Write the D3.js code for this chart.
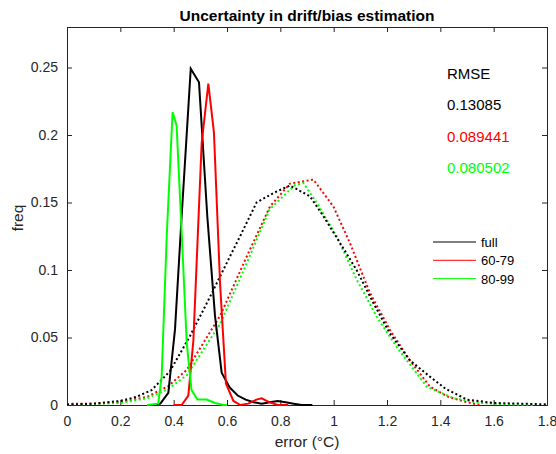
<!DOCTYPE html>
<html>
<head>
<meta charset="utf-8">
<script src="https://cdn.jsdelivr.net/npm/d3@7"></script>
<style>
  body { margin: 0; background: #fff; }
  svg text { font-family: "Liberation Sans", Arial, sans-serif; }
</style>
</head>
<body>
<svg id="chart" width="556" height="454"></svg>
<script>
// solid curves: [error, freq]
var fullSolid = [[0.30,0],[0.33,0],[0.35,0.001],[0.38,0.009],[0.405,0.056],[0.43,0.14],[0.464,0.249],
    [0.495,0.239],[0.526,0.14],[0.555,0.066],[0.58,0.024],[0.61,0.013],[0.64,0.007],[0.67,0.004],
    [0.70,0.002],[0.73,0.001],[0.76,0.002],[0.79,0.003],[0.82,0.002],[0.85,0.001],[0.88,0],[0.92,0]];
var s6079Solid = [[0.40,0],[0.43,0],[0.455,0.007],[0.474,0.048],[0.505,0.194],[0.53,0.238],[0.551,0.202],
    [0.574,0.09],[0.596,0.016],[0.624,0.003],[0.65,0],[0.68,0.001],[0.71,0.004],[0.73,0.005],
    [0.76,0.002],[0.79,0],[0.83,0]];
var s8099Solid = [[0.30,0],[0.342,0.001],[0.355,0.021],[0.374,0.125],[0.396,0.217],[0.411,0.207],
    [0.43,0.128],[0.449,0.046],[0.467,0.011],[0.489,0.004],[0.524,0.004],[0.555,0.0015],[0.586,0],[0.60,0]];

// dotted curves
var fullDot = [[0,0.0003],[0.1,0.001],[0.2,0.003],[0.26,0.006],[0.317,0.011],[0.386,0.025],[0.461,0.051],
    [0.536,0.08],[0.611,0.11],[0.649,0.125],[0.711,0.15],[0.774,0.157],[0.836,0.1626],[0.911,0.1546],
    [0.961,0.14],[1.024,0.12],[1.086,0.1],[1.149,0.0755],[1.211,0.053],[1.286,0.033],[1.361,0.021],
    [1.42,0.012],[1.5,0.004],[1.6,0.0015],[1.7,0.001],[1.8,0.0005]];
var s6079Dot = [[0,0.0008],[0.1,0.001],[0.2,0.002],[0.3,0.006],[0.38,0.014],[0.449,0.026],[0.574,0.066],
    [0.674,0.11],[0.761,0.147],[0.836,0.164],[0.924,0.167],[0.999,0.147],[1.061,0.12],[1.136,0.083],
    [1.211,0.0557],[1.286,0.033],[1.361,0.0136],[1.43,0.006],[1.5,0.002],[1.55,0]];
var s8099Dot = [[0,0.0003],[0.1,0.0008],[0.2,0.0015],[0.3,0.005],[0.38,0.012],[0.449,0.022],[0.574,0.06],
    [0.674,0.105],[0.76,0.145],[0.855,0.163],[0.886,0.1645],[0.936,0.15],[1.011,0.125],[1.086,0.093],
    [1.161,0.0655],[1.236,0.043],[1.349,0.0136],[1.45,0.005],[1.55,0.0015],[1.65,0.0005],[1.75,0]];

var seriesNames = ["full", "60-79", "80-99"];
var seriesColors = ["#000000", "#ff0000", "#00ff00"];
var rmseValues = ["0.13085", "0.089441", "0.080502"];
var xTicks = [0, 0.2, 0.4, 0.6, 0.8, 1, 1.2, 1.4, 1.6, 1.8];
var yTicks = [0, 0.05, 0.1, 0.15, 0.2, 0.25];

(function() {
    var svg = d3.select("#chart");
    var mLeft = 67, mRight = 547, mTop = 27, mBottom = 405;
    var axisColor = "#262626";

    var x = d3.scaleLinear().domain([0, 1.8]).range([mLeft, mRight]);
    var y = d3.scaleLinear().domain([0, 0.28]).range([mBottom, mTop]);

    // axes with inward ticks on all sides
    function axisStyle(g) {
        g.select(".domain").remove();
        g.selectAll(".tick line").attr("stroke", axisColor);
        g.selectAll(".tick text").attr("fill", axisColor).attr("font-size", 14);
    }
    svg.append("g").attr("transform", "translate(0," + mBottom + ")")
        .call(d3.axisBottom(x).tickValues(xTicks).tickSize(-5).tickPadding(11).tickFormat(d3.format("~g")))
        .call(axisStyle);
    svg.append("g").attr("transform", "translate(0," + mTop + ")")
        .call(d3.axisTop(x).tickValues(xTicks).tickSize(-5).tickFormat(""))
        .call(axisStyle);
    svg.append("g").attr("transform", "translate(" + mLeft + ",0)")
        .call(d3.axisLeft(y).tickValues(yTicks).tickSize(-5).tickPadding(9).tickFormat(d3.format("~g")))
        .call(axisStyle);
    svg.append("g").attr("transform", "translate(" + mRight + ",0)")
        .call(d3.axisRight(y).tickValues(yTicks).tickSize(-5).tickFormat(""))
        .call(axisStyle);

    svg.append("rect")
        .attr("x", mLeft + 0.5).attr("y", mTop + 0.5)
        .attr("width", mRight - mLeft).attr("height", mBottom - mTop)
        .attr("fill", "none").attr("stroke", axisColor).attr("stroke-width", 1);

    var line = d3.line().x(function(d) { return x(d[0]); }).y(function(d) { return y(d[1]); });

    var dotted = [fullDot, s6079Dot, s8099Dot];
    var solid = [fullSolid, s6079Solid, s8099Solid];

    [1, 2, 0].forEach(function(i) {
        svg.append("path").datum(dotted[i])
            .attr("d", line).attr("fill", "none")
            .attr("stroke", seriesColors[i]).attr("stroke-width", 2)
            .attr("stroke-dasharray", "2,2.5");
    });
    [0, 1, 2].forEach(function(i) {
        svg.append("path").datum(solid[i])
            .attr("d", line).attr("fill", "none")
            .attr("stroke", seriesColors[i]).attr("stroke-width", 2);
    });

    // title and labels
    svg.append("text").attr("x", (mLeft + mRight) / 2).attr("y", 21)
        .attr("text-anchor", "middle").attr("font-size", 15.5).attr("font-weight", "bold")
        .attr("fill", "#000").text("Uncertainty in drift/bias estimation");
    svg.append("text").attr("x", (mLeft + mRight) / 2).attr("y", 447)
        .attr("text-anchor", "middle").attr("font-size", 15.5).attr("fill", axisColor)
        .text("error (°C)");
    svg.append("text").attr("transform", "translate(23,218)rotate(-90)")
        .attr("text-anchor", "middle").attr("font-size", 15.5).attr("fill", axisColor)
        .text("freq");

    // RMSE annotations
    svg.append("text").attr("x", 447).attr("y", 79).attr("font-size", 15).attr("fill", "#000").text("RMSE");
    rmseValues.forEach(function(v, i) {
        svg.append("text").attr("x", 447).attr("y", 110 + i * 31.5)
            .attr("font-size", 15).attr("fill", seriesColors[i]).text(v);
    });

    // legend
    var legend = svg.append("g");
    seriesNames.forEach(function(name, i) {
        var ly = 242 + i * 18.3;
        legend.append("line").attr("x1", 433).attr("x2", 476).attr("y1", ly).attr("y2", ly)
            .attr("stroke", seriesColors[i]).attr("stroke-width", 1);
        legend.append("text").attr("x", 481).attr("y", ly + 5)
            .attr("font-size", 13).attr("fill", "#000").text(name);
    });
})();
</script>
</body>
</html>
